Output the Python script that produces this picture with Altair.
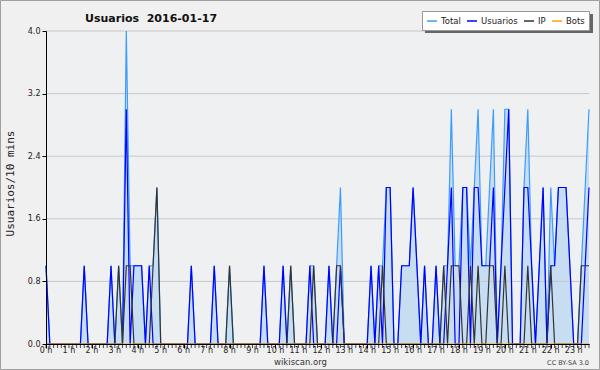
import altair as alt
import pandas as pd

# 10-minute slots, 2016-01-17 (0 = 00:00 ... 142 = 23:40)
usuarios = [
    1, 0, 0, 0, 0, 0, 0, 0, 0, 0, 1, 0,
    0, 0, 0, 0, 0, 1, 0, 0, 0, 3, 0, 1,
    1, 1, 0, 1, 0, 0, 0, 0, 0, 0, 0, 0,
    0, 0, 1, 0, 0, 0, 0, 0, 1, 0, 0, 0,
    0, 0, 0, 0, 0, 0, 0, 0, 0, 1, 0, 0,
    0, 0, 1, 0, 0, 0, 0, 0, 0, 1, 0, 0,
    0, 0, 1, 0, 0, 1, 0, 0, 0, 0, 0, 0,
    0, 1, 0, 1, 0, 2, 2, 0, 0, 1, 1, 1,
    2, 1, 0, 1, 0, 0, 1, 0, 0, 1, 2, 0,
    0, 2, 2, 0, 2, 2, 1, 1, 1, 2, 0, 1,
    2, 3, 0, 0, 0, 2, 2, 1, 0, 1, 2, 0,
    1, 1, 2, 2, 2, 1, 0, 0, 0, 1, 2,
]
ip = [
    0, 0, 0, 0, 0, 0, 0, 0, 0, 0, 0, 0,
    0, 0, 0, 0, 0, 0, 0, 1, 0, 1, 1, 0,
    0, 0, 0, 0, 1, 2, 0, 0, 0, 0, 0, 0,
    0, 0, 0, 0, 0, 0, 0, 0, 0, 0, 0, 0,
    1, 0, 0, 0, 0, 0, 0, 0, 0, 0, 0, 0,
    0, 0, 0, 0, 1, 0, 0, 0, 0, 0, 1, 0,
    0, 0, 0, 0, 1, 1, 0, 0, 0, 0, 0, 0,
    0, 0, 0, 0, 1, 0, 0, 0, 0, 0, 0, 0,
    0, 0, 0, 0, 0, 0, 0, 0, 1, 0, 1, 1,
    1, 0, 0, 1, 0, 1, 0, 0, 1, 1, 0, 0,
    1, 0, 0, 0, 0, 0, 1, 0, 0, 0, 0, 0,
    1, 0, 0, 0, 0, 0, 0, 0, 1, 1, 1,
]
bots = [0] * len(usuarios)
total = [u + i + b for u, i, b in zip(usuarios, ip, bots)]
slots = list(range(len(usuarios)))

series_names = ["Total", "Usuarios", "IP", "Bots"]
series_colors = ["#3d9cff", "#0000ff", "#333333", "#ffa500"]
grid_values = [0.8, 1.6, 2.4, 3.2, 4.0]
y_ticks = [round(0.2 * k, 1) for k in range(21)]
hour_ticks = [6 * h for h in range(24)]
hour_labels = [f"{h} h" for h in range(24)]

rows = []
for name, vals in zip(series_names, [total, usuarios, ip, bots]):
    for t, v in zip(slots, vals):
        rows.append({"t": t, "serie": name, "v": v})
df = pd.DataFrame(rows)
df_total = pd.DataFrame({"t": slots, "v": total})
df_grid = pd.DataFrame({"g": grid_values})
df_slots = pd.DataFrame({"t": slots})
df_hours = pd.DataFrame({"t": hour_ticks, "lab": hour_labels})

W, H = 543, 313

xscale = alt.Scale(domain=[0, slots[-1]], nice=False, zero=False)
yscale = alt.Scale(domain=[0, 4], nice=False)

xaxis = alt.Axis(
    values=hour_ticks, labels=False,
    tickSize=4, tickColor="black", domainColor="black", grid=False,
    title="wikiscan.org", titleFontSize=8.5,
    titleFontWeight="normal", titleColor="#333", titleX=254, titleY=20,
    titleBaseline="alphabetic", zindex=1,
)
yaxis = alt.Axis(
    values=y_ticks,
    labelExpr="round(datum.value * 10) % 8 === 0 ? format(datum.value, '.1f') : ''",
    tickSize=4, tickColor="black", domainColor="black", grid=False,
    labelFontSize=8, labelPadding=2, labelOverlap=False, labelFlush=False,
    labelColor="#222", title="Usuarios/10 mins", titleFont="DejaVu Sans Mono",
    titleFontSize=11, titleFontWeight="normal", titleColor="#222",
    titleX=-36, titleY=152, titleBaseline="middle", zindex=1,
)

area = alt.Chart(df_total).mark_area(color="#c6ddf2", interpolate="linear").encode(
    x=alt.X("t:Q", scale=xscale, axis=xaxis),
    y=alt.Y("v:Q", scale=yscale, axis=yaxis),
)

grid = alt.Chart(df_grid).mark_rule(color="#c8c8c8", strokeWidth=1).encode(
    y=alt.Y("g:Q", scale=yscale),
)

minor = alt.Chart(df_slots).mark_tick(color="black", thickness=1, size=4,
                                       orient="vertical").encode(
    x=alt.X("t:Q", scale=xscale),
    y=alt.value(H + 2),
)

hour_text = alt.Chart(df_hours).mark_text(fontSize=8, align="center", baseline="middle",
                                          color="#222").encode(
    x=alt.X("t:Q", scale=xscale),
    y=alt.value(H + 7),
    text="lab:N",
)

legend = alt.Legend(
    orient="none", legendX=376, legendY=-20, direction="horizontal", title=None,
    columns=4, gridAlign="none",
    symbolType="stroke", symbolSize=100, symbolStrokeWidth=1.5,
    labelFontSize=8.5, labelOffset=3, columnPadding=3, padding=4,
    fillColor="white", strokeColor="#999", labelColor="#222",
)
color = alt.Color("serie:N", scale=alt.Scale(domain=series_names, range=series_colors),
                  legend=legend)

lines = []
for name in series_names:
    lines.append(
        alt.Chart(df[df.serie == name]).mark_line(strokeWidth=1.2, interpolate="linear").encode(
            x=alt.X("t:Q", scale=xscale),
            y=alt.Y("v:Q", scale=yscale),
            color=color,
        )
    )

one = pd.DataFrame({"a": [0]})
shadow = alt.Chart(one).mark_rect(color="#666666").encode(
    x=alt.value(379), x2=alt.value(547), y=alt.value(-17), y2=alt.value(2)
)
border = alt.Chart(one).mark_rect(fillOpacity=0, stroke="#a0a0a0", strokeWidth=1).encode(
    x=alt.value(-45.5), x2=alt.value(553.5), y=alt.value(-30.5), y2=alt.value(338.5)
)
title = alt.Chart(one).mark_text(text="Usuarios\u00a0 2016-01-17", align="left",
                                 baseline="alphabetic", fontSize=11, font="DejaVu Sans",
                                 fontWeight="bold", color="#111").encode(
    x=alt.value(39), y=alt.value(-9)
)
cc = alt.Chart(one).mark_text(text="CC BY-SA 3.0", align="right", baseline="alphabetic",
                              fontSize=6.5, color="#444").encode(
    x=alt.value(543), y=alt.value(334)
)

chart = alt.layer(area, grid, minor, hour_text, *lines, shadow, border, title, cc).properties(
    width=W, height=H,
    autosize=alt.AutoSizeParams(type="none"),
    padding={"left": 46, "top": 31, "right": 11, "bottom": 26},
).configure(background="#f0f0f0", font="DejaVu Sans").configure_view(
    fill="#eef0f2", strokeWidth=0
)

chart.save("out.html", embed_options={"renderer": "svg", "actions": False})
